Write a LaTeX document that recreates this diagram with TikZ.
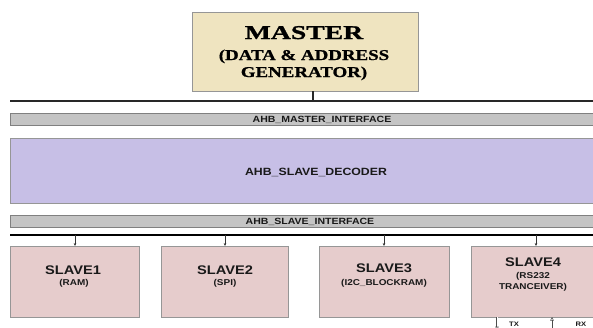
\documentclass[tikz,border=0pt]{standalone}
\usepackage{fontspec}
\setmainfont{Liberation Sans}[FakeStretch=1.17]
\newfontfamily\mastertitle{Liberation Serif}[FakeStretch=1.42,FakeBold=1.2]
\newfontfamily\mastersub{Liberation Serif}[FakeStretch=1.26,FakeBold=0.9]
\usetikzlibrary{arrows.meta}

\definecolor{masterfill}{RGB}{239,228,192}
\definecolor{busfill}{RGB}{196,196,196}
\definecolor{busedge}{RGB}{128,128,128}
\definecolor{decoderfill}{RGB}{199,191,230}
\definecolor{slavefill}{RGB}{230,204,204}
\definecolor{boxedge}{RGB}{150,150,150}
\definecolor{wireclr}{RGB}{40,40,40}

\begin{document}
\begin{tikzpicture}[x=1pt,y=-1pt,
  block/.style={draw=boxedge, line width=0.8pt, inner sep=0, outer sep=0},
  masterbox/.style={block, fill=masterfill, minimum width=226pt, minimum height=79pt},
  busbar/.style={block, draw=busedge, fill=busfill, minimum width=595pt, minimum height=12pt},
  decoderbox/.style={block, fill=decoderfill, minimum width=595pt, minimum height=65pt},
  slavebox/.style={block, fill=slavefill, minimum height=71pt},
  txt/.style={inner sep=0, anchor=base, text=black!90},
  bartext/.style={txt, font=\bfseries\fontsize{9}{10}\selectfont},
  slavename/.style={txt, font=\bfseries\fontsize{12.5}{13}\selectfont},
  slavesub/.style={txt, font=\bfseries\fontsize{8.5}{9}\selectfont},
  bus/.style={draw=wireclr, line width=1.3pt},
  slavebus/.style={draw=black, line width=2.6pt},
  feed/.style={draw=black!80, line width=0.6pt, -{Stealth[length=3pt,width=2.6pt]}},
  ioarrow/.style={draw=black!70, line width=0.5pt, -{Triangle[open,length=3.5pt,width=3.5pt]}}
]
\useasboundingbox (0,0) rectangle (593,327);
\clip (0,0) rectangle (593,327);

% master block and its title
\node[masterbox] (master) at (305,51.5) {};
\node[txt, text=black, font=\mastertitle\bfseries\fontsize{19.5}{21}\selectfont] (mt1) at (304,39) {MASTER};
\node[txt, text=black, font=\mastersub\bfseries\fontsize{15}{16}\selectfont] (mt2) at (304,60) {(DATA \& ADDRESS};
\node[txt, text=black, font=\mastersub\bfseries\fontsize{15}{16}\selectfont] (mt3) at (304,77) {GENERATOR)};

% master bus
\coordinate (mbl) at (10,101);
\coordinate (mbr) at (600,101);
\coordinate (mtap) at (313,101);
\draw[bus] (mbl) -- (mbr);
\draw[bus] (mtap |- master.south) -- (mtap);

% interface bars and decoder
\node[busbar] (mif) at (307.5,119) {};
\node[bartext] (miftxt) at (322,122.5) {AHB\_MASTER\_INTERFACE};
\node[decoderbox] (dec) at (307.5,170.5) {};
\node[txt, font=\bfseries\fontsize{10.5}{12}\selectfont] (dectxt) at (316,175) {AHB\_SLAVE\_DECODER};
\node[busbar] (sif) at (307.5,221) {};
\node[bartext] (siftxt) at (310,224.5) {AHB\_SLAVE\_INTERFACE};

% slave bus
\coordinate (sbl) at (10,235);
\coordinate (sbr) at (600,235);
\draw[slavebus] (sbl) -- (sbr);

% slaves
\node[slavebox, minimum width=129pt] (s1) at (74.5,281.5) {};
\node[slavebox, minimum width=127pt] (s2) at (224.5,281.5) {};
\node[slavebox, minimum width=130pt] (s3) at (384,281.5) {};
\node[slavebox, minimum width=127pt] (s4) at (534.5,281.5) {};

\node[slavename] (s1a) at (73,274) {SLAVE1};
\node[slavesub]  (s1b) at (74,285) {(RAM)};
\node[slavename] (s2a) at (225,274) {SLAVE2};
\node[slavesub]  (s2b) at (225,285) {(SPI)};
\node[slavename] (s3a) at (384,272.5) {SLAVE3};
\node[slavesub]  (s3b) at (384,285) {(I2C\_BLOCKRAM)};
\node[slavename] (s4a) at (533,266.5) {SLAVE4};
\node[slavesub]  (s4b) at (533,278.5) {(RS232};
\node[slavesub]  (s4c) at (533,289) {TRANCEIVER)};

% bus taps into the slaves
\foreach \s/\x in {s1/75, s2/225, s3/384, s4/536}{
  \coordinate (\s tap) at (\x,235);
  \draw[feed] (\s tap) -- (\s tap |- \s.north);
}

% serial lines of the transceiver
\coordinate (txend) at (497,330);
\coordinate (rxend) at (552,330);
\draw[ioarrow, double, double distance=1pt] (txend |- s4.south) -- (txend);
\draw[ioarrow] (rxend) -- (rxend |- s4.south);
\node[txt, font=\bfseries\fontsize{6.5}{7}\selectfont] (tx) at (514,326.5) {TX};
\node[txt, font=\bfseries\fontsize{6.5}{7}\selectfont] (rx) at (581,326.5) {RX};
\end{tikzpicture}
\end{document}
